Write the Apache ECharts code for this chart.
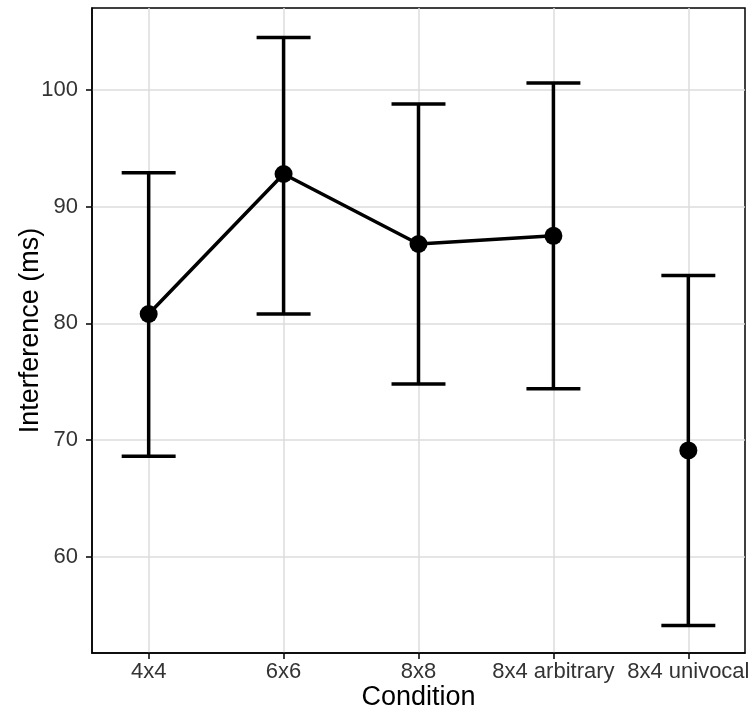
<!DOCTYPE html>
<html>
<head>
<meta charset="utf-8">
<script src="https://cdn.jsdelivr.net/npm/echarts@6/dist/echarts.min.js"></script>
<style>
    html, body { margin: 0; padding: 0; background: #fff; }
    #chart { width: 754px; height: 711px; }
</style>
</head>
<body>
<div id="chart"></div>
<script>
/* 数据 */
const conditions = ['4x4', '6x6', '8x8', '8x4 arbitrary', '8x4 univocal'];
const meanValues = [80.8, 92.8, 86.8, 87.5, 69.1];
const upperValues = [92.9, 104.5, 98.8, 100.6, 84.1];
const lowerValues = [68.6, 80.8, 74.8, 74.4, 54.1];
const yTicks = [60, 70, 80, 90, 100];

const xPositions = conditions.map((c, i) => i);
const meanData = meanValues.map((v, i) => [i, v]);
const barData = conditions.map((c, i) => [i, lowerValues[i], upperValues[i]]);

var chart = echarts.init(document.getElementById('chart'));
option = {
    animation: false,
    grid: {
        left: 92,
        right: 9,
        top: 8,
        bottom: 58,
        containLabel: false,
        outerBoundsMode: 'none',
        show: true,
        borderColor: '#000',
        borderWidth: 1.5
    },
    xAxis: {
        type: 'value',
        min: -0.42,
        max: 4.42,
        name: 'Condition',
        nameLocation: 'middle',
        nameGap: 31,
        nameMoveOverlap: false,
        nameTextStyle: { color: '#000', fontSize: 27, fontFamily: 'Liberation Sans' },
        axisLine: { show: true, onZero: false, lineStyle: { color: '#000', width: 1.5 } },
        axisTick: { show: true, customValues: xPositions, length: 6, lineStyle: { color: '#000', width: 1.5 } },
        axisLabel: {
            customValues: xPositions,
            formatter: (v) => conditions[Math.round(v)],
            color: '#333',
            fontSize: 22,
            fontFamily: 'Liberation Sans',
            margin: 8
        },
        splitLine: { show: true, lineStyle: { color: '#dcdcdc', width: 1.5 } }
    },
    yAxis: {
        type: 'value',
        min: 51.74,
        max: 107.03,
        name: 'Interference (ms)',
        nameLocation: 'middle',
        nameGap: 48,
        nameMoveOverlap: false,
        nameTextStyle: { color: '#000', fontSize: 27, fontFamily: 'Liberation Sans' },
        axisLine: { show: true, onZero: false, lineStyle: { color: '#000', width: 1.5 } },
        axisTick: { show: true, customValues: yTicks, length: 6, lineStyle: { color: '#000', width: 1.5 } },
        axisLabel: {
            customValues: yTicks,
            color: '#333',
            fontSize: 22,
            fontFamily: 'Liberation Sans',
            margin: 14
        },
        splitLine: { show: true, lineStyle: { color: '#dcdcdc', width: 1.5 } }
    },
    series: [
        {
            // 误差线
            type: 'custom',
            data: barData,
            z: 3,
            renderItem: function (params, api) {
                const x = api.value(0);
                const lo = api.coord([x, api.value(1)]);
                const hi = api.coord([x, api.value(2)]);
                const half = api.size([0.2, 0])[0];
                const style = { stroke: '#000', lineWidth: 3.5 };
                return {
                    type: 'group',
                    children: [
                        { type: 'line', shape: { x1: lo[0], y1: lo[1], x2: hi[0], y2: hi[1] }, style: style },
                        { type: 'line', shape: { x1: hi[0] - half, y1: hi[1], x2: hi[0] + half, y2: hi[1] }, style: style },
                        { type: 'line', shape: { x1: lo[0] - half, y1: lo[1], x2: lo[0] + half, y2: lo[1] }, style: style }
                    ]
                };
            }
        },
        {
            // 均值折线 (前四组相连)
            type: 'line',
            data: meanData.slice(0, 4),
            symbol: 'none',
            z: 4,
            lineStyle: { color: '#000', width: 3.5 }
        },
        {
            type: 'scatter',
            data: meanData,
            symbol: 'circle',
            symbolSize: 18,
            z: 5,
            itemStyle: { color: '#000', opacity: 1 }
        }
    ]
};
chart.setOption(option);
</script>
</body>
</html>
